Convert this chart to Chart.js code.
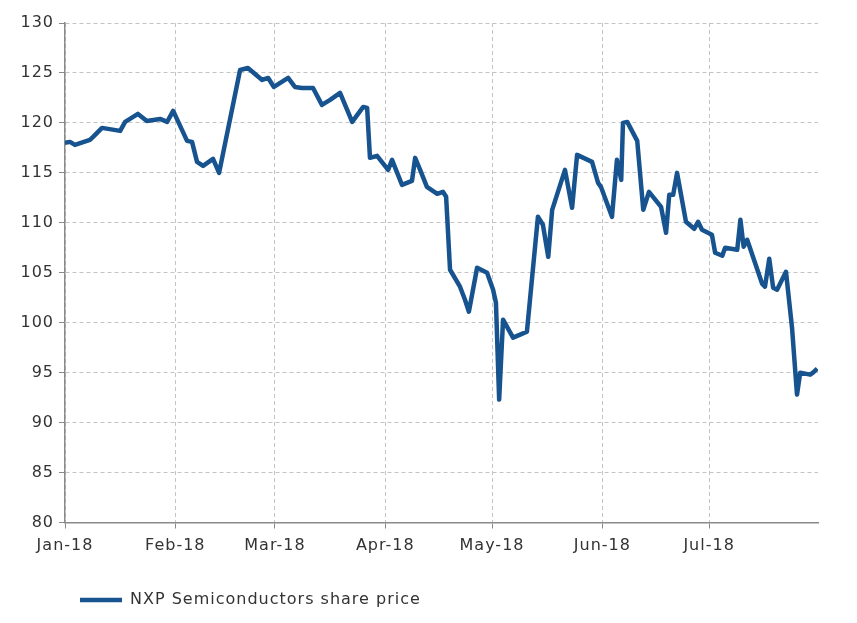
<!DOCTYPE html>
<html>
<head>
<meta charset="utf-8">
<script src="https://cdn.jsdelivr.net/npm/chart.js@4/dist/chart.umd.min.js"></script>
<style>
  html, body { margin: 0; padding: 0; background: #ffffff; }
  #wrap { width: 857px; height: 623px; }
</style>
</head>
<body>
<div id="wrap"><canvas id="c" width="857" height="623"></canvas></div>
<script>
// Days counted from 1 Jan 2018
const dayOffsets = [0, 1.4, 2.8, 7.0, 7.9, 10.4, 15.5, 16.9, 20.5, 23.0, 26.7, 28.7, 30.4, 34.3, 35.7, 37.1, 38.8, 41.6, 43.3,
  49.2, 51.4, 55.4, 57.1, 58.7, 62.7, 64.6, 66.6, 69.7, 72.2, 74.5, 77.3, 80.7, 83.8, 84.9, 85.7, 87.7,
  90.8, 91.9, 94.7, 97.5, 98.4, 99.8, 101.7, 104.6, 106.2, 107.1, 108.2, 111.0, 112.4, 113.5, 115.8, 118.6,
  120.3, 121.1, 122.0, 123.1, 125.9, 127.9, 129.8, 132.9, 134.3, 135.8, 136.9, 140.5, 142.5, 143.9, 148.1,
  149.8, 150.6, 153.7, 155.1, 156.3, 156.8, 158.0, 160.8, 162.5, 164.1, 167.5, 168.9, 169.8, 170.9, 172.0,
  174.5, 176.8, 177.9, 179.0, 181.8, 182.7, 184.7, 185.5, 188.9, 189.8, 190.7, 191.7, 195.9, 196.7, 197.9,
  199.0, 200.1, 202.6, 204.3, 205.7, 206.6, 209.4, 210.2, 211.4];
const sharePrice = [118.0, 118.1, 117.8, 118.3, 118.6, 119.5, 119.2, 120.1, 120.9, 120.2, 120.4, 120.1, 121.2, 118.2, 118.1, 116.1, 115.7, 116.4, 115.0,
  125.3, 125.5, 124.3, 124.5, 123.6, 124.5, 123.6, 123.5, 123.5, 121.8, 122.3, 123.0, 120.1, 121.6, 121.5, 116.5, 116.7,
  115.3, 116.3, 113.8, 114.2, 116.5, 115.3, 113.6, 112.9, 113.1, 112.6, 105.3, 103.6, 102.3, 101.1, 105.5, 105.0,
  103.3, 102.0, 92.3, 100.3, 98.5, 98.8, 99.1, 110.6, 109.8, 106.6, 111.3, 115.3, 111.5, 116.8, 116.1,
  114.0, 113.6, 110.6, 116.3, 114.3, 120.0, 120.1, 118.2, 111.3, 113.1, 111.6, 109.0, 112.8, 112.8, 115.0,
  110.1, 109.4, 110.1, 109.3, 108.8, 107.0, 106.7, 107.5, 107.3, 110.3, 107.6, 108.3, 103.9, 103.6, 106.4,
  103.5, 103.3, 105.1, 99.5, 92.8, 95.0, 94.8, 95.0, 95.4];
const monthTickDays = [0, 31, 59, 90, 120, 151, 181];
const monthTickLabels = ['Jan-18', 'Feb-18', 'Mar-18', 'Apr-18', 'May-18', 'Jun-18', 'Jul-18'];
const seriesLabel = 'NXP Semiconductors share price';
const yMin = 80, yMax = 130, yStep = 5;
const xMin = 0, xMax = 211.6;

const points = dayOffsets.map((d, i) => ({ x: d, y: sharePrice[i] }));
const lineColor = '#17538f';
const textColor = '#333333';
const font = { family: 'DejaVu Sans', size: 16 };

const spacingPlugin = {
  id: 'letterSpacing',
  beforeInit(chart) { chart.ctx.letterSpacing = '1px'; },
  beforeLayout(chart) { chart.ctx.letterSpacing = '1px'; },
  beforeDraw(chart) { chart.ctx.letterSpacing = '1px'; }
};

new Chart(document.getElementById('c'), {
  type: 'line',
  plugins: [spacingPlugin],
  data: {
    datasets: [{
      label: seriesLabel,
      data: points,
      borderColor: lineColor,
      backgroundColor: lineColor,
      borderWidth: 4.5,
      pointRadius: 0,
      tension: 0,
      borderJoinStyle: 'round',
      pointStyle: 'line'
    }]
  },
  options: {
    responsive: false,
    animation: false,
    layout: { padding: { left: 0, right: 39, top: 23, bottom: 5 } },
    plugins: {
      tooltip: { enabled: false },
      legend: {
        position: 'bottom',
        align: 'start',
        fullSize: false,
        labels: {
          usePointStyle: true,
          pointStyle: 'line',
          pointStyleWidth: 42,
          padding: 15,
          color: textColor,
          font: font
        }
      }
    },
    scales: {
      x: {
        type: 'linear',
        min: xMin,
        max: xMax,
        afterBuildTicks: (scale) => { scale.ticks = monthTickDays.map(v => ({ value: v })); },
        afterFit: (scale) => { scale.height = 54.5; },
        ticks: {
          autoSkip: false,
          maxRotation: 0,
          padding: 8,
          color: textColor,
          font: font,
          callback: (v) => { const i = monthTickDays.indexOf(v); return i >= 0 ? monthTickLabels[i] : ''; }
        },
        grid: {
          color: '#c4c4c4',
          lineWidth: 1,
          tickLength: 6,
          tickColor: '#888888',
          tickBorderDash: []
        },
        border: { display: true, color: '#8a8a8a', width: 1.5, dash: [4, 3] }
      },
      y: {
        min: yMin,
        max: yMax,
        afterFit: (scale) => { scale.width = 65; },
        ticks: {
          stepSize: yStep,
          padding: 5,
          color: textColor,
          font: font
        },
        grid: {
          color: '#c4c4c4',
          lineWidth: 1,
          tickLength: 6,
          tickColor: '#888888',
          tickBorderDash: []
        },
        border: { display: true, color: '#8a8a8a', width: 1.5, dash: [4, 3] }
      }
    }
  }
});
</script>
</body>
</html>
